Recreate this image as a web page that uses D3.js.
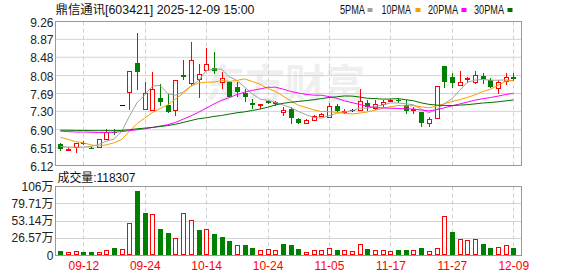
<!DOCTYPE html>
<html><head><meta charset="utf-8">
<script src="https://cdn.jsdelivr.net/npm/d3@7"></script>
<style>
body{margin:0;background:#fff}
svg{display:block}
text{font-family:"Liberation Sans",Arial,"Noto Sans CJK SC",sans-serif;font-size:12px}
</style>
</head><body>
<svg id="c" width="578" height="276"></svg>
<script>
const dates=["09-09","09-10","09-11","09-12","09-15","09-16","09-17","09-18","09-19","09-22","09-23","09-24","09-25","09-26","09-29","09-30",
"10-09","10-10","10-13","10-14","10-15","10-16","10-17","10-20","10-21","10-22","10-23","10-24","10-27","10-28","10-29","10-30","10-31",
"11-03","11-04","11-05","11-06","11-07","11-10","11-11","11-12","11-13","11-14","11-17","11-18","11-19","11-20","11-21","11-24","11-25","11-26","11-27","11-28",
"12-01","12-02","12-03","12-04","12-05","12-08","12-09"];
const open =[6.59,6.48,6.53,6.61,6.51,6.52,6.70,6.86,7.43,7.72,8.35,7.36,7.335,7.60,7.43,7.32,8.10,7.915,8.01,8.21,8.25,7.95,7.94,7.83,7.705,7.49,7.45,7.53,7.48,7.28,7.35,7.13,7.05,7.12,7.21,7.17,7.41,7.30,7.32,7.335,7.48,7.37,7.47,7.52,7.55,7.44,7.33,7.28,7.05,7.15,8.28,8.04,7.88,8.02,7.95,8.08,7.99,7.81,7.97,8.04];
const close=[6.48,6.49,6.61,6.60,6.50,6.69,6.86,6.83,7.43,8.17,8.155,7.71,7.79,7.50,7.28,7.99,8.05,8.425,8.12,8.34,8.18,8.03,7.61,7.72,7.61,7.44,7.46,7.48,7.50,7.32,7.15,7.05,7.12,7.20,7.25,7.41,7.30,7.31,7.32,7.52,7.385,7.465,7.50,7.55,7.52,7.30,7.35,7.04,7.14,7.86,7.93,7.915,7.93,8.03,8.10,8.01,7.83,7.93,8.06,8.00];
const high =[6.61,6.52,6.62,6.65,6.54,6.70,6.92,6.92,7.43,8.17,9.00,7.94,8.155,7.90,7.67,7.99,8.425,8.82,8.34,8.68,8.605,8.155,7.94,7.94,7.79,7.575,7.46,7.55,7.53,7.385,7.40,7.15,7.14,7.22,7.27,7.48,7.46,7.36,7.36,7.79,7.54,7.54,7.54,7.56,7.59,7.55,7.39,7.28,7.17,7.86,8.28,8.13,8.185,8.06,8.185,8.13,8.02,7.99,8.13,8.13];
const low  =[6.43,6.43,6.39,6.56,6.47,6.50,6.67,6.78,7.43,7.33,7.76,7.335,7.33,7.41,7.26,7.21,7.995,7.86,7.60,8.20,8.12,7.79,7.61,7.61,7.50,7.36,7.36,7.46,7.42,7.20,7.02,7.02,7.02,7.10,7.18,7.16,7.275,7.24,7.28,7.33,7.31,7.34,7.39,7.50,7.49,7.24,7.24,6.955,6.95,7.15,7.82,7.81,7.88,7.915,7.89,7.89,7.82,7.675,7.88,7.97];
const volume=[66000,61000,76000,51000,51000,61000,92000,123000,107000,506000,986000,653000,644000,403000,342000,276000,660000,552000,388000,414000,327000,285000,219000,169000,158000,112000,92000,107000,92000,173000,158000,97000,61000,92000,92000,123000,81000,81000,66000,184000,97000,92000,81000,66000,81000,81000,81000,123000,66000,123000,603000,357000,261000,235000,261000,184000,123000,138000,169000,118307];
const prevClose0=6.60;
const ma5 =[6.54,6.52,6.52,6.52,6.536,6.578,6.652,6.696,6.862,7.196,7.489,7.659,7.851,7.865,7.687,7.654,7.722,7.849,7.973,8.185,8.223,8.219,8.056,7.976,7.83,7.682,7.568,7.542,7.498,7.44,7.382,7.30,7.228,7.168,7.154,7.206,7.256,7.29,7.314,7.37,7.372,7.40,7.44,7.484,7.484,7.467,7.444,7.352,7.27,7.338,7.464,7.577,7.755,7.933,7.981,7.997,7.98,7.98,7.986,7.966];
const ma10=[6.74,6.69,6.64,6.615,6.57,6.545,6.57,6.615,6.69,6.866,7.034,7.156,7.274,7.364,7.442,7.572,7.691,7.85,7.919,7.936,7.939,7.971,7.953,7.975,8.008,7.953,7.894,7.799,7.737,7.635,7.532,7.434,7.385,7.333,7.297,7.294,7.278,7.261,7.243,7.263,7.287,7.328,7.366,7.401,7.428,7.419,7.426,7.399,7.378,7.412,7.467,7.512,7.555,7.603,7.661,7.732,7.78,7.869,7.961,7.975];
const ma20=[6.87,6.86,6.85,6.85,6.845,6.84,6.84,6.845,6.86,6.88,6.90,6.92,6.95,6.98,7.01,7.06,7.13,7.20,7.28,7.37,7.46,7.54,7.60,7.666,7.72,7.758,7.789,7.825,7.828,7.786,7.735,7.702,7.669,7.654,7.652,7.623,7.586,7.531,7.491,7.45,7.41,7.382,7.377,7.368,7.364,7.357,7.351,7.329,7.311,7.338,7.377,7.42,7.461,7.502,7.545,7.575,7.601,7.632,7.668,7.692];
const ma30=[6.89,6.89,6.885,6.885,6.88,6.88,6.88,6.88,6.885,6.90,6.92,6.935,6.95,6.97,6.99,7.02,7.06,7.10,7.14,7.16,7.19,7.21,7.24,7.27,7.29,7.32,7.35,7.39,7.44,7.476,7.498,7.517,7.534,7.555,7.579,7.603,7.618,7.636,7.633,7.612,7.586,7.578,7.568,7.57,7.578,7.555,7.532,7.486,7.454,7.438,7.429,7.426,7.436,7.447,7.463,7.482,7.494,7.509,7.528,7.551];
const priceTicks=[9.26,8.87,8.48,8.08,7.69,7.30,6.90,6.51,6.12];
const volTickValues=[1062800,797100,531400,265700,0];
const volTickLabels=["106万","79.71万","53.14万","26.57万","0"];
const xTickLabels=["09-12","09-24","10-14","10-24","11-05","11-17","11-27","12-09"];
const maNames=["5PMA","10PMA","20PMA","30PMA"];
const maColors=["#a0a0a0","#f5a000","#ff00ff","#007000"];
const title="鼎信通讯[603421] 2025-12-09 15:00";
const volTitle="成交量:118307";

const RED="#ff0000", GREEN="#008000";
const svg=d3.select("#c");
const L=55.5, R=521.5;
const x=d3.scaleLinear().domain([0,dates.length-1]).range([60.3,513.3]);
const y=d3.scaleLinear().domain([6.12,9.26]).range([165.5,21.5]);
const vy=d3.scaleLinear().domain([0,1062800]).range([255.5,186.5]);

// watermark
svg.append("text").attr("x",285).attr("y",98).attr("text-anchor","middle")
  .style("font-family","'Noto Sans CJK SC',sans-serif").style("font-size","40px").style("font-weight","bold")
  .attr("fill","#000").attr("opacity",0.06).text("东方财富");

// grids main
const gM=svg.append("g");
gM.selectAll("line.h").data(priceTicks).join("line")
  .attr("x1",L).attr("x2",R).attr("y1",d=>y(d)).attr("y2",d=>y(d))
  .attr("stroke","#d4d4d4");
const xIdx=xTickLabels.map(l=>dates.indexOf(l));
gM.selectAll("line.v").data(xIdx).join("line")
  .attr("x1",d=>Math.round(x(d))+0.5).attr("x2",d=>Math.round(x(d))+0.5)
  .attr("y1",y(9.26)).attr("y2",y(6.12)).attr("stroke","#cfcfcf").attr("stroke-dasharray","4,3");
// grids volume
const gV=svg.append("g");
gV.selectAll("line.h").data(volTickValues).join("line")
  .attr("x1",L).attr("x2",R).attr("y1",d=>Math.round(vy(d)-0.5)+0.5).attr("y2",d=>Math.round(vy(d)-0.5)+0.5)
  .attr("stroke","#d4d4d4");
gV.selectAll("line.v").data(xIdx).join("line")
  .attr("x1",d=>Math.round(x(d))+0.5).attr("x2",d=>Math.round(x(d))+0.5)
  .attr("y1",vy.range()[1]).attr("y2",vy.range()[0]).attr("stroke","#cfcfcf").attr("stroke-dasharray","4,3");

// candles
const idx=d3.range(dates.length);
const gc=svg.append("g");
idx.forEach(i=>{
  const cx=Math.round(x(i));
  const o=open[i], c=close[i];
  const col=c>o?RED:(c<o?GREEN:"#000");
  const yh=Math.round(y(high[i])), yl=Math.round(y(low[i]));
  const yt=Math.round(y(Math.max(o,c))), yb=Math.round(y(Math.min(o,c)));
  if(yl>yh) gc.append("line").attr("x1",cx+0.5).attr("x2",cx+0.5).attr("y1",yh).attr("y2",yl).attr("stroke",col);
  if(c>o){
    gc.append("rect").attr("x",cx-1.5).attr("y",yt+0.5).attr("width",4).attr("height",Math.max(yb-yt,1))
      .attr("fill","#fff").attr("stroke",col);
  } else if(c<o){
    gc.append("rect").attr("x",cx-2).attr("y",yt).attr("width",5).attr("height",Math.max(yb-yt,1)).attr("fill",col);
  } else {
    gc.append("line").attr("x1",cx-2).attr("x2",cx+3).attr("y1",yt+0.5).attr("y2",yt+0.5).attr("stroke",col);
  }
});

// MA lines
[ma5,ma10,ma20,ma30].forEach((arr,k)=>{
  svg.append("path").datum(arr)
    .attr("d",d3.line().x((d,i)=>x(i)).y(d=>y(d)))
    .attr("fill","none").attr("stroke",maColors[k]).attr("stroke-width",1);
});

// volume bars (colour by close vs previous close)
const gvb=svg.append("g");
idx.forEach(i=>{
  const cx=Math.round(x(i));
  const pc=i===0?prevClose0:close[i-1];
  const up=close[i]>=pc;
  const top=Math.round(vy(volume[i])), bot=Math.round(vy(0)-0.5);
  if(up){
    gvb.append("rect").attr("x",cx-1.5).attr("y",top+0.5).attr("width",4).attr("height",Math.max(bot-top-1,1))
      .attr("fill","#fff").attr("stroke",RED);
  } else {
    gvb.append("rect").attr("x",cx-2).attr("y",top).attr("width",5).attr("height",bot-top).attr("fill",GREEN);
  }
});

// frames
svg.append("rect").attr("x",L).attr("y",y(9.26)).attr("width",R-L).attr("height",y(6.12)-y(9.26))
  .attr("fill","none").attr("stroke","#999");
svg.append("rect").attr("x",L).attr("y",vy.range()[1]).attr("width",R-L).attr("height",vy.range()[0]-vy.range()[1])
  .attr("fill","none").attr("stroke","#999");

// y labels
svg.selectAll("text.py").data(priceTicks).join("text")
  .attr("x",53.5).attr("y",d=>y(d)+1).attr("text-anchor","end").attr("dominant-baseline","central")
  .attr("fill","#222").text(d=>d.toFixed(2));
svg.selectAll("text.vy").data(volTickValues).join("text")
  .attr("x",53.5).attr("y",d=>vy(d)).attr("text-anchor","end").attr("dominant-baseline","central")
  .attr("fill","#222").text((d,i)=>volTickLabels[i]);

// x labels
svg.selectAll("text.xl").data(xIdx).join("text")
  .attr("x",d=>x(d)+0.5).attr("y",266).attr("text-anchor","middle").attr("dominant-baseline","central")
  .attr("fill",RED).text((d,i)=>xTickLabels[i]);

// title
svg.append("text").attr("x",55.5).attr("y",9.5).attr("dominant-baseline","central")
  .attr("fill","#111").attr("textLength",199).attr("lengthAdjust","spacingAndGlyphs").text(title);
svg.append("text").attr("x",57.5).attr("y",177.5).attr("dominant-baseline","central")
  .attr("fill","#111").attr("textLength",78).attr("lengthAdjust","spacingAndGlyphs").text(volTitle);

// legend
const legX=[340,381.5,428,474], legW=[25,29.5,30,30], sqX=[367.5,415.5,461.5,507.5];
maNames.forEach((n,k)=>{
  svg.append("text").attr("x",legX[k]).attr("y",9.5).attr("dominant-baseline","central").attr("fill","#111")
    .attr("textLength",legW[k]).attr("lengthAdjust","spacingAndGlyphs").text(n);
  svg.append("rect").attr("x",sqX[k]).attr("y",8).attr("width",5).attr("height",4).attr("fill",maColors[k]);
});
</script>
</body></html>
